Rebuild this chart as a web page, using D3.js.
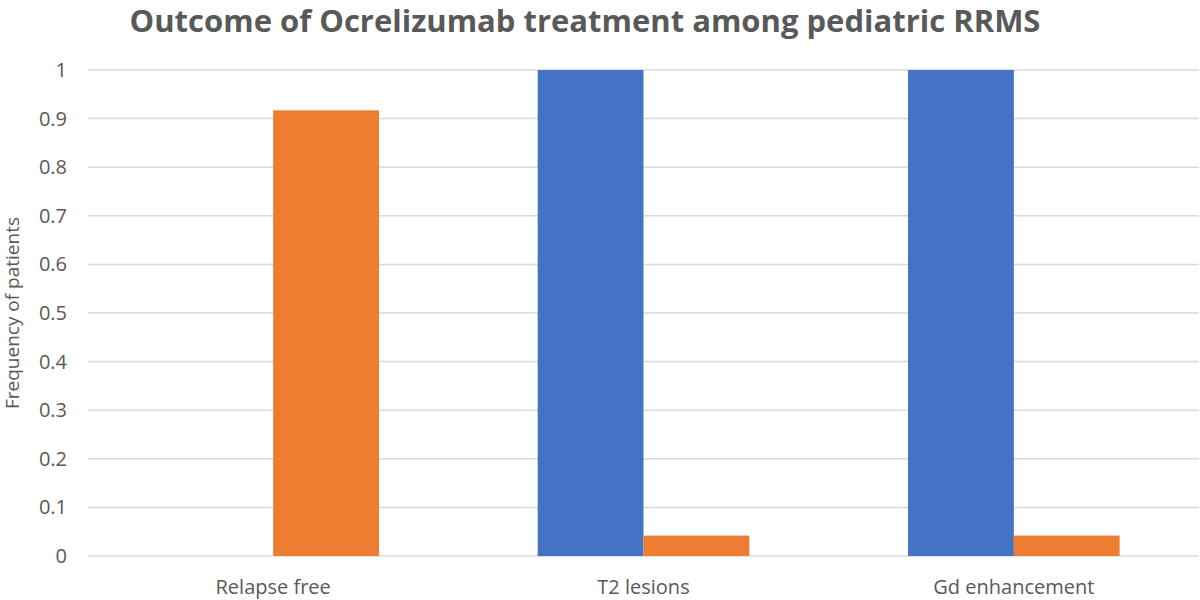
<!DOCTYPE html>
<html>
<head>
<meta charset="utf-8">
<script src="https://cdn.jsdelivr.net/npm/d3@7"></script>
<style>
  body { margin: 0; background: #fff; }
  text { font-family: "Open Sans", "Noto Sans", sans-serif; fill: #595959; }
</style>
</head>
<body>
<svg id="chart" width="1200" height="600"></svg>
<script>
const categories = ["Relapse free", "T2 lesions", "Gd enhancement"];
const seriesNames = ["Series1", "Series2"];
const series1 = [0, 1, 1];
const series2 = [0.917, 0.042, 0.042];
const yTicks = [0, 0.1, 0.2, 0.3, 0.4, 0.5, 0.6, 0.7, 0.8, 0.9, 1];

const colors = ["#4472C4", "#ED7D31"];
const width = 1200;
const height = 600;
const margin = { top: 70, right: 1, bottom: 44, left: 88 };

const svg = d3.select("#chart");

const rows = categories.map((c, i) => ({ cat: c, values: [series1[i], series2[i]] }));

// gap between groups = 1.5 bar widths, like Excel's default
const x = d3.scaleBand()
    .domain(categories)
    .range([margin.left, width - margin.right])
    .paddingInner(0.4286)
    .paddingOuter(0.2143);

const xInner = d3.scaleBand()
    .domain(seriesNames)
    .range([0, x.bandwidth()]);

const y = d3.scaleLinear()
    .domain([0, 1])
    .range([height - margin.bottom, margin.top]);

// gridlines
svg.append("g")
    .selectAll("line")
    .data(yTicks)
    .join("line")
    .attr("x1", margin.left)
    .attr("x2", width - margin.right)
    .attr("y1", d => y(d))
    .attr("y2", d => y(d))
    .attr("stroke", "#d9d9d9")
    .attr("stroke-width", 1.5);

// bars
svg.append("g")
    .selectAll("g")
    .data(rows)
    .join("g")
    .attr("transform", d => `translate(${x(d.cat)},0)`)
    .selectAll("rect")
    .data(d => d.values.map((v, i) => ({ key: seriesNames[i], v, i })))
    .join("rect")
    .attr("x", d => xInner(d.key))
    .attr("width", xInner.bandwidth())
    .attr("y", d => y(d.v))
    .attr("height", d => y(0) - y(d.v))
    .attr("fill", d => colors[d.i]);

// y tick labels
svg.append("g")
    .selectAll("text")
    .data(yTicks)
    .join("text")
    .attr("x", 67)
    .attr("y", d => y(d))
    .attr("dy", "0.35em")
    .attr("text-anchor", "end")
    .attr("font-size", 20)
    .text(d => d3.format("~g")(d));

// x labels
svg.append("g")
    .selectAll("text")
    .data(categories)
    .join("text")
    .attr("x", d => x(d) + x.bandwidth() / 2)
    .attr("y", 594)
    .attr("text-anchor", "middle")
    .attr("font-size", 20)
    .text(d => d);

// y axis title
svg.append("text")
    .attr("transform", `translate(19,${(y(0) + y(1)) / 2}) rotate(-90)`)
    .attr("text-anchor", "middle")
    .attr("font-size", 19)
    .text("Frequency of patients");

// chart title
svg.append("text")
    .attr("x", 585)
    .attr("y", 32)
    .attr("text-anchor", "middle")
    .attr("font-size", 31)
    .attr("font-weight", "bold")
    .text("Outcome of Ocrelizumab treatment among pediatric RRMS");
</script>
</body>
</html>
